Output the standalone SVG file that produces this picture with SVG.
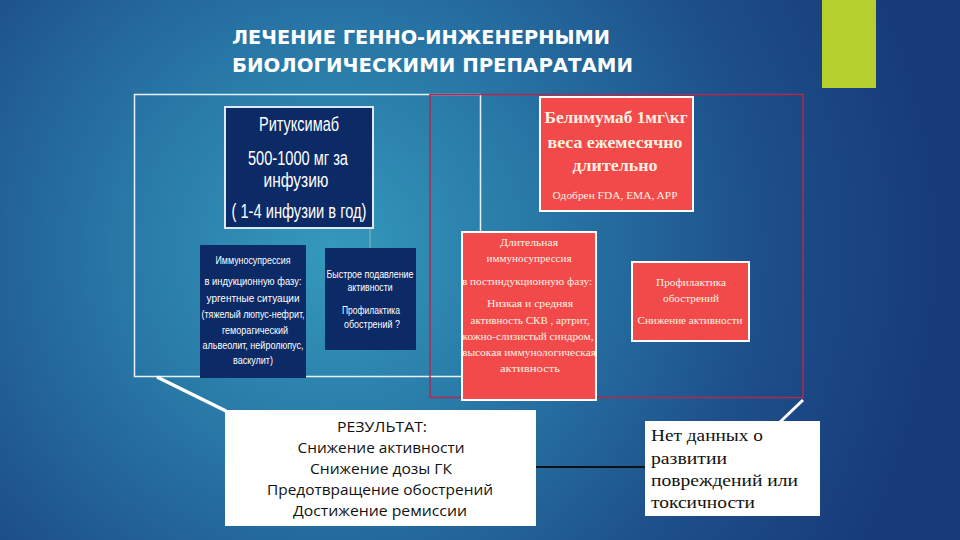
<svg xmlns="http://www.w3.org/2000/svg" width="960" height="540" viewBox="0 0 960 540">
<defs>
<radialGradient id="bg" cx="330" cy="250" r="620" gradientUnits="userSpaceOnUse">
<stop offset="0" stop-color="#3499bb"/>
<stop offset="0.35" stop-color="#2877a6"/>
<stop offset="0.7" stop-color="#1d4f8a"/>
<stop offset="1" stop-color="#173a78"/>
</radialGradient>
<style>
.navy{fill:#0c2a66}
.red{fill:#f24a4b;stroke:#ffffff;stroke-width:2}
.tw{fill:#ffffff;font-family:"Liberation Sans","DejaVu Sans",sans-serif;text-anchor:middle}
.tr{fill:#fff1e0;font-family:"Liberation Serif","DejaVu Serif",serif;text-anchor:middle}
.tb{fill:#111111;font-family:"Open Sans","Liberation Sans",sans-serif;text-anchor:middle;font-size:14px}
.ts{fill:#111111;font-family:"Liberation Serif","DejaVu Serif",serif;font-size:16px}
</style>
</defs>
<rect width="960" height="540" fill="url(#bg)"/>
<rect x="822" y="0" width="54" height="88" fill="#b5cf2c"/>
<g id="title" fill="#ffffff" font-family="'DejaVu Sans','Liberation Sans',sans-serif" font-weight="bold" font-size="19">
<text x="232" y="44" textLength="378" lengthAdjust="spacingAndGlyphs">ЛЕЧЕНИЕ ГЕННО-ИНЖЕНЕРНЫМИ</text>
<text x="232" y="72" textLength="401" lengthAdjust="spacingAndGlyphs">БИОЛОГИЧЕСКИМИ ПРЕПАРАТАМИ</text>
</g>
<g id="frames" fill="none">
<rect x="134.5" y="94.5" width="346" height="282" stroke="#e6f4fa" stroke-width="1.5"/>
<rect x="430" y="94.5" width="373" height="303" stroke="#b3284c" stroke-width="1.5"/>
</g>
<g id="connectors" fill="none">
<line x1="370" y1="228" x2="370" y2="249" stroke="#8fb0c8" stroke-width="1"/>
<line x1="157" y1="377" x2="226" y2="411" stroke="#ffffff" stroke-width="3.5"/>
<line x1="803" y1="400" x2="780" y2="422" stroke="#ffffff" stroke-width="3"/>
<line x1="536" y1="467" x2="646" y2="467" stroke="#111111" stroke-width="2"/>
</g>
<g id="rituximab">
<rect x="225" y="107" width="148" height="121" class="navy" stroke="#dce9f2" stroke-width="2"/>
<text class="tw" x="299" y="131" font-size="20" textLength="80" lengthAdjust="spacingAndGlyphs">Ритуксимаб</text>
<text class="tw" x="298" y="165" font-size="20" textLength="100" lengthAdjust="spacingAndGlyphs">500-1000 мг за</text>
<text class="tw" x="296" y="187" font-size="20" textLength="65" lengthAdjust="spacingAndGlyphs">инфузию</text>
<text class="tw" x="299" y="218" font-size="20" textLength="135" lengthAdjust="spacingAndGlyphs">( 1-4 инфузии в год)</text>
</g>
<g id="immuno">
<rect x="200" y="245" width="106" height="133" class="navy"/>
<g class="tw" font-size="10">
<text x="253" y="264" textLength="75" lengthAdjust="spacingAndGlyphs">Иммуносупрессия</text>
<text x="253" y="285" textLength="97" lengthAdjust="spacingAndGlyphs">в индукционную фазу:</text>
<text x="253" y="302" textLength="93" lengthAdjust="spacingAndGlyphs">ургентные ситуации</text>
<text x="253" y="318" textLength="103" lengthAdjust="spacingAndGlyphs">(тяжелый люпус-нефрит,</text>
<text x="255" y="334" textLength="66" lengthAdjust="spacingAndGlyphs">геморагический</text>
<text x="253" y="349" textLength="101" lengthAdjust="spacingAndGlyphs">альвеолит, нейролюпус,</text>
<text x="253" y="364" textLength="40" lengthAdjust="spacingAndGlyphs">васкулит)</text>
</g>
</g>
<g id="fast">
<rect x="325" y="248" width="91" height="102" class="navy"/>
<g class="tw" font-size="10">
<text x="370" y="278" textLength="87" lengthAdjust="spacingAndGlyphs">Быстрое подавление</text>
<text x="370" y="291" textLength="45" lengthAdjust="spacingAndGlyphs">активности</text>
<text x="371" y="314" textLength="58" lengthAdjust="spacingAndGlyphs">Профилактика</text>
<text x="372" y="328" textLength="56" lengthAdjust="spacingAndGlyphs">обострений ?</text>
</g>
</g>
<g id="belimumab">
<rect x="540" y="97" width="153" height="114" class="red"/>
<g class="tr" font-weight="bold" font-size="17">
<text x="616" y="123" textLength="143" lengthAdjust="spacingAndGlyphs">Белимумаб 1мг\кг</text>
<text x="615" y="148" textLength="135" lengthAdjust="spacingAndGlyphs">веса ежемесячно</text>
<text x="615" y="171" textLength="85" lengthAdjust="spacingAndGlyphs">длительно</text>
</g>
<text class="tr" x="615" y="199" font-size="11" textLength="125" lengthAdjust="spacingAndGlyphs">Одобрен FDA, EMA, APP</text>
</g>
<g id="longterm">
<rect x="462" y="232" width="134" height="168" class="red"/>
<g class="tr" font-size="11">
<text x="529" y="246" textLength="58" lengthAdjust="spacingAndGlyphs">Длительная</text>
<text x="529" y="262" textLength="85" lengthAdjust="spacingAndGlyphs">иммуносупрессия</text>
<text x="527" y="285" textLength="130" lengthAdjust="spacingAndGlyphs">в постиндукционную фазу:</text>
<text x="530" y="307" textLength="86" lengthAdjust="spacingAndGlyphs">Низкая и средняя</text>
<text x="530" y="324" textLength="119" lengthAdjust="spacingAndGlyphs">активность СКВ , артрит,</text>
<text x="528" y="340" textLength="131" lengthAdjust="spacingAndGlyphs">кожно-слизистый синдром,</text>
<text x="529" y="356" textLength="134" lengthAdjust="spacingAndGlyphs">высокая иммунологическая</text>
<text x="530" y="372" textLength="60" lengthAdjust="spacingAndGlyphs">активность</text>
</g>
</g>
<g id="prophylaxis">
<rect x="632" y="262" width="117" height="79" class="red"/>
<g class="tr" font-size="11">
<text x="691" y="286" textLength="70" lengthAdjust="spacingAndGlyphs">Профилактика</text>
<text x="691" y="302" textLength="56" lengthAdjust="spacingAndGlyphs">обострений</text>
<text x="690" y="324" textLength="105" lengthAdjust="spacingAndGlyphs">Снижение активности</text>
</g>
</g>
<g id="result">
<rect x="225" y="410" width="311" height="116" fill="#ffffff"/>
<text class="tb" x="382" y="432" textLength="90" lengthAdjust="spacingAndGlyphs">РЕЗУЛЬТАТ:</text>
<text class="tb" x="381" y="453" textLength="167" lengthAdjust="spacingAndGlyphs">Снижение активности</text>
<text class="tb" x="381" y="474" textLength="142" lengthAdjust="spacingAndGlyphs">Снижение дозы ГК</text>
<text class="tb" x="380" y="495" textLength="226" lengthAdjust="spacingAndGlyphs">Предотвращение обострений</text>
<text class="tb" x="380" y="516" textLength="174" lengthAdjust="spacingAndGlyphs">Достижение ремиссии</text>
</g>
<g id="nodata">
<rect x="645" y="421" width="175" height="95" fill="#ffffff"/>
<text class="ts" x="651" y="441" textLength="112" lengthAdjust="spacingAndGlyphs">Нет данных о</text>
<text class="ts" x="651" y="464" textLength="76" lengthAdjust="spacingAndGlyphs">развитии</text>
<text class="ts" x="651" y="486" textLength="147" lengthAdjust="spacingAndGlyphs">повреждений или</text>
<text class="ts" x="651" y="508" textLength="104" lengthAdjust="spacingAndGlyphs">токсичности</text>
</g>
</svg>
